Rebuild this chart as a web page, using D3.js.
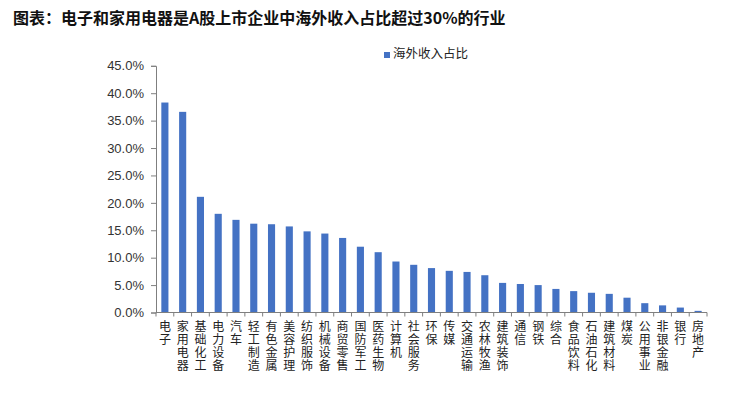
<!DOCTYPE html>
<html><head><meta charset="utf-8">
<script src="https://cdn.jsdelivr.net/npm/d3@7"></script>
<style>body{margin:0;background:#fff;}svg{display:block;}</style>
</head><body>
<script>
const title = "图表：电子和家用电器是A股上市企业中海外收入占比超过30%的行业";
const seriesName = "海外收入占比";
const categories = ["电子","家用电器","基础化工","电力设备","汽车","轻工制造","有色金属","美容护理","纺织服饰","机械设备","商贸零售","国防军工","医药生物","计算机","社会服务","环保","传媒","交通运输","农林牧渔","建筑装饰","通信","钢铁","综合","食品饮料","石油石化","建筑材料","煤炭","公用事业","非银金融","银行","房地产"];
const values = [38.3,36.6,21.1,18.0,16.9,16.2,16.1,15.7,14.8,14.4,13.6,12.0,11.0,9.3,8.7,8.1,7.6,7.4,6.8,5.4,5.2,5.0,4.3,3.9,3.6,3.4,2.7,1.7,1.3,0.9,0.3];
const yTicks = [0,5,10,15,20,25,30,35,40,45];

const W=753,H=394;
const svg=d3.select("body").append("svg").attr("width",W).attr("height",H);
svg.append("text").attr("x",13).attr("y",24).text(title)
  .attr("font-family","'Noto Sans CJK SC',sans-serif").attr("font-weight","bold").attr("font-size",16).attr("fill","#111");

const x=d3.scaleBand().domain(categories).range([156,707]).paddingInner(0.6).paddingOuter(0.3);
const y=d3.scaleLinear().domain([0,45]).range([312.5,65.8]);

const axisColor="#7f7f7f";
const yAxis=svg.append("g").attr("transform","translate(156,0)")
  .call(d3.axisLeft(y).tickValues(yTicks).tickFormat(d=>d.toFixed(1)+"%").tickSize(5).tickPadding(7));
yAxis.select(".domain").attr("stroke",axisColor);
yAxis.selectAll(".tick line").attr("stroke",axisColor);
yAxis.selectAll("text").attr("font-family","Arial,'Liberation Sans',sans-serif").attr("font-size",13).attr("fill","#333");

svg.append("g").selectAll("rect").data(values).join("rect")
  .attr("x",(d,i)=>x(categories[i])).attr("width",x.bandwidth())
  .attr("y",d=>y(d)).attr("height",d=>y(0)-y(d)).attr("fill","#4472C4");

// x axis
const xg=svg.append("g");
xg.append("line").attr("x1",156).attr("x2",707).attr("y1",y(0)).attr("y2",y(0)).attr("stroke",axisColor);
const step=x.step();
const bounds=d3.range(categories.length+1).map(i=>156+i*step);
xg.selectAll("line.t").data(bounds).join("line").attr("class","t")
  .attr("x1",d=>d).attr("x2",d=>d).attr("y1",y(0)).attr("y2",y(0)+4).attr("stroke",axisColor);
const lab=xg.selectAll("text").data(categories).join("text")
  .attr("font-family","'Noto Sans CJK SC',sans-serif").attr("font-size",12).attr("fill","#222")
  .attr("text-anchor","middle");
lab.each(function(d){
  const cx=x(d)+x.bandwidth()/2;
  const t=d3.select(this);
  [...d].forEach((c,j)=>{t.append("tspan").attr("x",cx).attr("y",331+j*13).text(c);});
});

// legend
const lg=svg.append("g");
lg.append("rect").attr("x",384).attr("y",52).attr("width",6).attr("height",6).attr("fill","#4472C4");
lg.append("text").attr("x",393).attr("y",58).text(seriesName)
  .attr("font-family","'Noto Sans CJK SC',sans-serif").attr("font-size",12.5).attr("fill","#222");
</script>
</body></html>
